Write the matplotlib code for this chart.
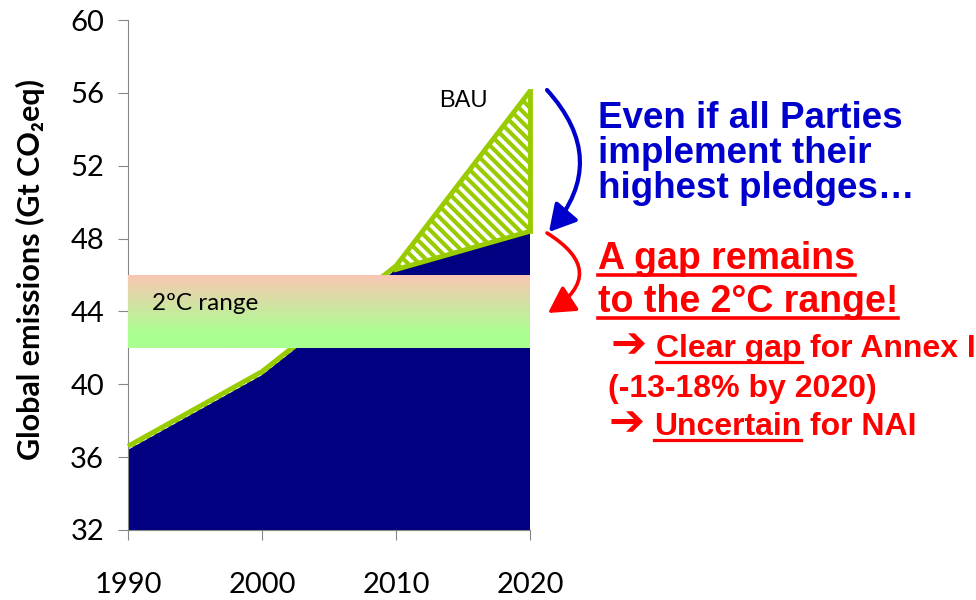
import numpy as np
import matplotlib.pyplot as plt
from matplotlib.patches import FancyArrowPatch
from matplotlib.lines import Line2D

# emissions pathways, Gt CO2eq
years = [1990, 2000, 2010, 2020]
bau = [36.6, 40.7, 46.5, 56.1]          # business as usual
pledges = [36.4, 40.5, 46.3, 48.4]      # highest pledges implemented
range_low, range_high = 42, 46          # 2 degC compatible range
yticks = [32, 36, 40, 44, 48, 52, 56, 60]

W, H = 976, 600
navy = '#000080'
lime = '#99cc00'
grey = '#868686'
blue_txt = '#0000cc'
red_txt = '#ff0000'

plt.rcParams['hatch.linewidth'] = 3.0

fig = plt.figure(figsize=(W / 100, H / 100), dpi=100)
ax = fig.add_axes([128 / W, 70 / H, 402 / W, 510 / H])

def fp(x, y):
    # pixel position (from top-left) -> figure fraction
    return x / W, 1 - y / H

# hatched gap between BAU and pledges
ax.fill_between(years, range_low - 10, bau, facecolor='white', edgecolor=lime,
                hatch='\\\\\\', linewidth=0, zorder=1)
ax.fill_between(years, range_low - 10, pledges, facecolor=navy, linewidth=0, zorder=2)
ax.plot(years, bau, color=lime, lw=3.5, solid_capstyle='butt', zorder=3, clip_on=False)
ax.plot(years[2:], pledges[2:], color=lime, lw=3.5, zorder=3)
ax.plot([years[-1], years[-1]], [pledges[-1], bau[-1]], color=lime, lw=3.5,
        zorder=3, clip_on=False)

# 2 degC band with vertical colour gradient
top = np.array([250, 198, 180]) / 255
bot = np.array([170, 255, 145]) / 255
t = np.clip(np.linspace(0, 1, 200) / 0.8, 0, 1)[:, None]
grad = (top * (1 - t) + bot * t)[:, None, :]
ax.imshow(grad, extent=[years[0], years[-1], range_low, range_high],
          aspect='auto', zorder=4, interpolation='bilinear')
ax.text(1991.8, 44.45, '2ºC range', fontsize=17.5, family='Lato', va='center', zorder=5)
ax.text(2015.0, 55.55, 'BAU', fontsize=17, family='Liberation Sans', ha='center',
        va='center')

ax.set_xlim(years[0], years[-1])
ax.set_ylim(yticks[0], yticks[-1])
ax.set_xticks(years)
ax.set_yticks(yticks)
for side in ['top', 'right']:
    ax.spines[side].set_visible(False)
for side in ['left', 'bottom']:
    ax.spines[side].set_color(grey)
ax.tick_params(direction='out', length=7.2, color=grey, labelsize=21)
ax.tick_params(axis='y', pad=10)
ax.tick_params(axis='x', pad=23)
for lab in ax.get_xticklabels() + ax.get_yticklabels():
    lab.set_family('Lato')

fig.text(*fp(30, 270), 'Global emissions (Gt CO₂eq)', rotation=90, fontsize=22,
         fontweight='bold', family=['Lato', 'DejaVu Sans'], ha='center', va='center')

# curved arrows
arrows = [((547, 90), (549, 232), -0.44, '#0000cc', 3.0),
          ((547, 233), (548, 313), -0.78, '#ff0000', 2.6)]
for a, b, rad, c, lw in arrows:
    arr = FancyArrowPatch(fp(*a), fp(*b), transform=fig.transFigure,
                          connectionstyle=f'arc3,rad={rad}',
                          arrowstyle='-|>,head_length=0.8,head_width=0.45',
                          mutation_scale=20, color=c, lw=lw,
                          shrinkA=0, shrinkB=0)
    fig.patches.append(arr)

fam = ['Liberation Sans', 'DejaVu Sans']
for s, y in [('Even if all Parties', 128), ('implement their', 163),
             ('highest pledges…', 198)]:
    fig.text(*fp(598, y), s, fontsize=26.5, fontweight='bold', color=blue_txt,
             family=fam, va='baseline')

renderer = fig.canvas.get_renderer()

def width(s, size):
    tmp = fig.text(0, 0, s, fontsize=size, fontweight='bold', family=fam)
    w = tmp.get_window_extent(renderer).width
    tmp.remove()
    return w

def run(x, y, parts, size, ul_off, ul_lw):
    space = width('a a', size) - width('aa', size)
    for s, ul, *scale in parts:
        fs = size * (scale[0] if scale else 1)
        tx = fig.text(*fp(x, y), s, fontsize=fs, fontweight='bold',
                      color=red_txt, family=fam, va='baseline')
        bb = tx.get_window_extent(renderer)
        if ul:
            fig.lines.append(Line2D([bb.x0 / W, bb.x1 / W],
                                    [1 - (y + ul_off) / H] * 2,
                                    transform=fig.transFigure, color=red_txt,
                                    lw=ul_lw))
        x = bb.x1 + space

run(598, 269, [('A gap remains', True)], 27, 6, 2.6)
run(598, 312, [('to the 2°C range!', True)], 27, 6, 2.6)
run(611, 357, [('➔', False, 1.35), ('Clear gap', True), ('for Annex I', False)], 23, 5, 2.3)
run(608, 397, [('(-13-18% by 2020)', False)], 23, 5, 2.3)
run(609, 435, [('➔', False, 1.35), ('Uncertain', True), ('for NAI', False)], 23, 5, 2.3)

fig.savefig('out.png', dpi=100)
